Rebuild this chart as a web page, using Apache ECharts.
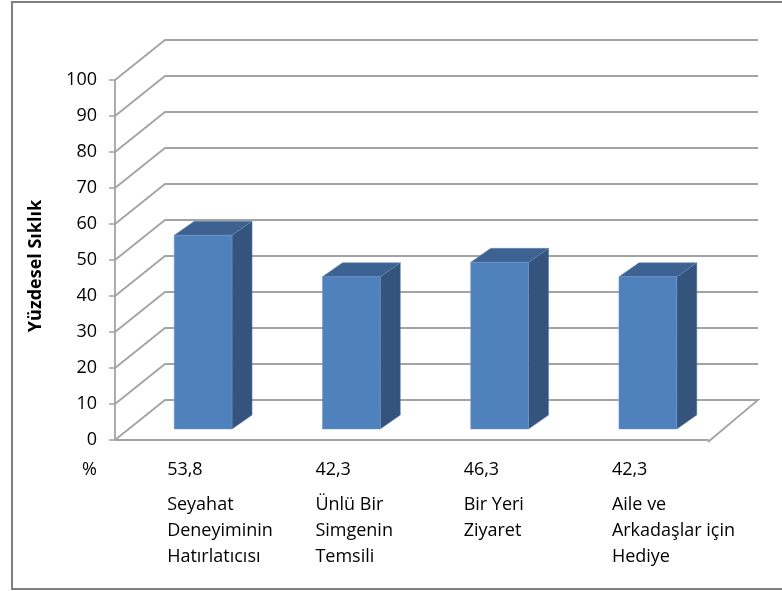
<!DOCTYPE html>
<html>
<head>
<meta charset="utf-8">
<script src="https://cdn.jsdelivr.net/npm/echarts@6/dist/echarts.min.js"></script>
<style>
  html, body { margin: 0; padding: 0; background: #fff; }
  #chart { width: 782px; height: 591px; }
</style>
</head>
<body>
<div id="chart"></div>
<script>
// data
const categories = [
  'Seyahat\nDeneyiminin\nHatırlatıcısı',
  'Ünlü Bir\nSimgenin\nTemsili',
  'Bir Yeri\nZiyaret',
  'Aile ve\nArkadaşlar için\nHediye'
]
const values = [53.8, 42.3, 46.3, 42.3]
const yTicks = [0, 10, 20, 30, 40, 50, 60, 70, 80, 90, 100]

// 3D look (pixel offsets)
const WALL_DX = 50, WALL_DY = -40 // back wall depth
const BAR_DX = 14, BAR_DY = -11 // bars sit in the middle
const SIDE_DX = 20, SIDE_DY = -14 // bar depth
const FONT = '"Open Sans", "Noto Sans", sans-serif'
const GRID_COLOR = '#a3a3a3'

const chart = echarts.init(document.getElementById('chart'))

// walls: one line per tick, left wall diagonal + back wall horizontal
function renderWall(params, api) {
  const cs = params.coordSys
  const v = api.value(1)
  const y = api.coord([0, v])[1]
  const left = cs.x, right = cs.x + cs.width
  const pts = [[left, y], [left + WALL_DX, y + WALL_DY], [right + WALL_DX, y + WALL_DY]]
  if (v === 0) pts.push([right, y + 2]) // floor right edge
  return {
    type: 'polyline',
    shape: { points: pts },
    style: { stroke: GRID_COLOR, lineWidth: 1.8, fill: null }
  }
}

function renderBar(params, api) {
  const i = api.value(0), v = api.value(1)
  const base = api.coord([i, 0])
  const top = api.coord([i, v])
  const w = api.size([1, 0])[0] * 0.39
  const x0 = base[0] + BAR_DX - w / 2, x1 = x0 + w
  const yb = base[1] + BAR_DY, yt = top[1] + BAR_DY
  const labelX = base[0] - 22
  return {
    type: 'group',
    children: [
      {
        type: 'polygon',
        shape: { points: [[x1, yt], [x1 + SIDE_DX, yt + SIDE_DY], [x1 + SIDE_DX, yb + SIDE_DY], [x1, yb]] },
        style: { fill: '#34537d', stroke: '#5a7aa6', lineWidth: 0.5 }
      },
      {
        type: 'polygon',
        shape: { points: [[x0, yt], [x1, yt], [x1 + SIDE_DX, yt + SIDE_DY], [x0 + SIDE_DX, yt + SIDE_DY]] },
        style: { fill: '#3d6190', stroke: '#6689b6', lineWidth: 0.5 }
      },
      {
        type: 'rect',
        shape: { x: x0, y: yt, width: w, height: yb - yt },
        style: { fill: '#4f81bd', stroke: '#7095c6', lineWidth: 0.5 }
      },
      {
        type: 'text',
        x: labelX, y: base[1] + 30,
        style: {
          text: values[params.dataIndex].toFixed(1).replace('.', ','),
          fill: '#000', font: '18px ' + FONT, align: 'left', verticalAlign: 'middle'
        }
      },
      {
        type: 'text',
        x: labelX, y: base[1] + 52,
        style: {
          text: categories[params.dataIndex],
          fill: '#000', font: '18px ' + FONT, align: 'left', verticalAlign: 'top', lineHeight: 26
        }
      }
    ]
  }
}

chart.setOption({
  animation: false,
  backgroundColor: '#fff',
  grid: { left: 115, top: 80, width: 593, height: 360 },
  xAxis: {
    type: 'category',
    data: categories,
    axisLine: { lineStyle: { color: GRID_COLOR, width: 1.8 } },
    axisTick: { length: 5, lineStyle: { color: GRID_COLOR, width: 1.5 } },
    axisLabel: { show: false }
  },
  yAxis: {
    type: 'value',
    min: 0,
    max: 100,
    interval: 10,
    name: 'Yüzdesel Sıklık',
    nameLocation: 'middle',
    nameRotate: 90,
    nameGap: 70,
    nameTextStyle: { color: '#000', fontSize: 18, fontWeight: 'bold', fontFamily: FONT, padding: [0, 0, 0, -12] },
    axisLine: { show: true, lineStyle: { color: GRID_COLOR, width: 1.8 } },
    axisTick: { show: true, length: 6, lineStyle: { color: GRID_COLOR, width: 1.5 } },
    axisLabel: { color: '#000', fontSize: 18, fontFamily: FONT, margin: 18 },
    splitLine: { show: false }
  },
  graphic: [
    {
      type: 'rect',
      shape: { x: 12, y: 2, width: 800, height: 587 },
      style: { fill: null, stroke: '#7f7f7f', lineWidth: 2 },
      z: -1
    },
    {
      type: 'text',
      x: 82, y: 470,
      style: { text: '%', fill: '#000', font: '18px ' + FONT, verticalAlign: 'middle' }
    }
  ],
  series: [
    {
      type: 'custom',
      renderItem: renderWall,
      data: yTicks.map((t) => [0, t]),
      clip: false,
      silent: true,
      z: 1
    },
    {
      type: 'custom',
      renderItem: renderBar,
      data: values.map((v, i) => [i, v]),
      clip: false,
      z: 2
    }
  ]
})
</script>
</body>
</html>
